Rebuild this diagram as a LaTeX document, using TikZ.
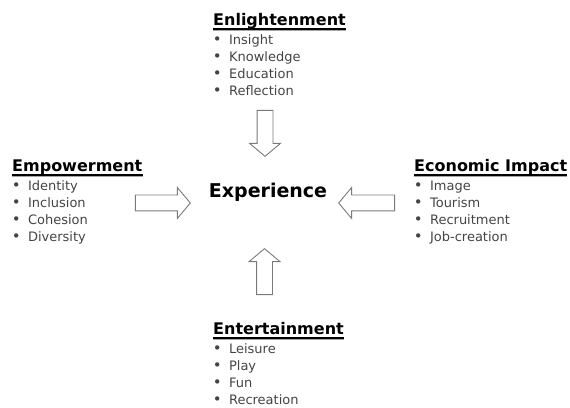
\documentclass[tikz,border=0pt]{standalone}
\usepackage{fontspec}
\setmainfont{DejaVu Sans}
\usetikzlibrary{shapes.arrows}

\definecolor{itemgray}{HTML}{444444}
\definecolor{arrowgray}{HTML}{7A7A7A}

\newcommand{\blt}{{\fontsize{15}{17}\selectfont\textbullet}\hspace{7.4pt}}

\tikzset{
    head/.style={anchor=base west, inner sep=0pt, font=\bfseries\fontsize{16}{19}\selectfont},
    item/.style={anchor=base west, inner sep=0pt, text=itemgray, font=\fontsize{13}{17}\selectfont},
    uline/.style={line width=1.4pt},
    ushadow/.style={line width=1.2pt, black!35},
    blockarrow/.style={single arrow, draw=arrowgray, line width=0.9pt, fill=white,
        inner sep=7.5pt, minimum width=1pt,
        single arrow head extend=7.5pt, single arrow tip angle=100},
}

\begin{document}
\begin{tikzpicture}[x=1pt, y=1pt]
    %% Background
    \useasboundingbox (0,0) rectangle (570,407);

    %% Centre
    \node[anchor=base, inner sep=0pt, font=\bfseries\fontsize{19}{23}\selectfont] (exp) at (268,209) {Experience};

    %% Headings
    \node[head] (enl) at (213,381) {Enlightenment};
    \node[head] (emp) at (12,235) {Empowerment};
    \node[head] (eco) at (414,235) {Economic Impact};
    \node[head] (ent) at (213,72) {Entertainment};

    \foreach \n in {enl,emp,eco,ent} {
        \draw[ushadow] ([yshift=-4.6pt]\n.base west) -- ([yshift=-4.6pt]\n.base east);
        \draw[uline] ([yshift=-3pt]\n.base west) -- ([yshift=-3pt]\n.base east);
    }

    %% Lists
    \foreach \t [count=\i] in {Insight,Knowledge,Education,Reflection}
        \node[item] (enl-\i) at ([xshift=-0.4pt, yshift={-1.5pt-17pt*\i}]enl.base west) {\blt\t};
    \foreach \t [count=\i] in {Identity,Inclusion,Cohesion,Diversity}
        \node[item] (emp-\i) at ([xshift=-0.4pt, yshift={-1.5pt-17pt*\i}]emp.base west) {\blt\t};
    \foreach \t [count=\i] in {Image,Tourism,Recruitment,Job-creation}
        \node[item] (eco-\i) at ([xshift=-0.4pt, yshift={-1.5pt-17pt*\i}]eco.base west) {\blt\t};
    \foreach \t [count=\i] in {Leisure,Play,Fun,Recreation}
        \node[item] (ent-\i) at ([xshift=-0.4pt, yshift={-1.5pt-17pt*\i}]ent.base west) {\blt\t};

    %% Arrows
    \node[blockarrow, minimum height=46pt, shape border rotate=270] (arrenl) at (265,277) {};
    \node[blockarrow, minimum height=46pt, shape border rotate=90] (arrent) at (264.5,132) {};
    \node[blockarrow, minimum height=55pt] (arremp) at (159.5,204) {};
    \node[blockarrow, minimum height=56pt, shape border rotate=180] (arreco) at (370,204) {};
\end{tikzpicture}
\end{document}
